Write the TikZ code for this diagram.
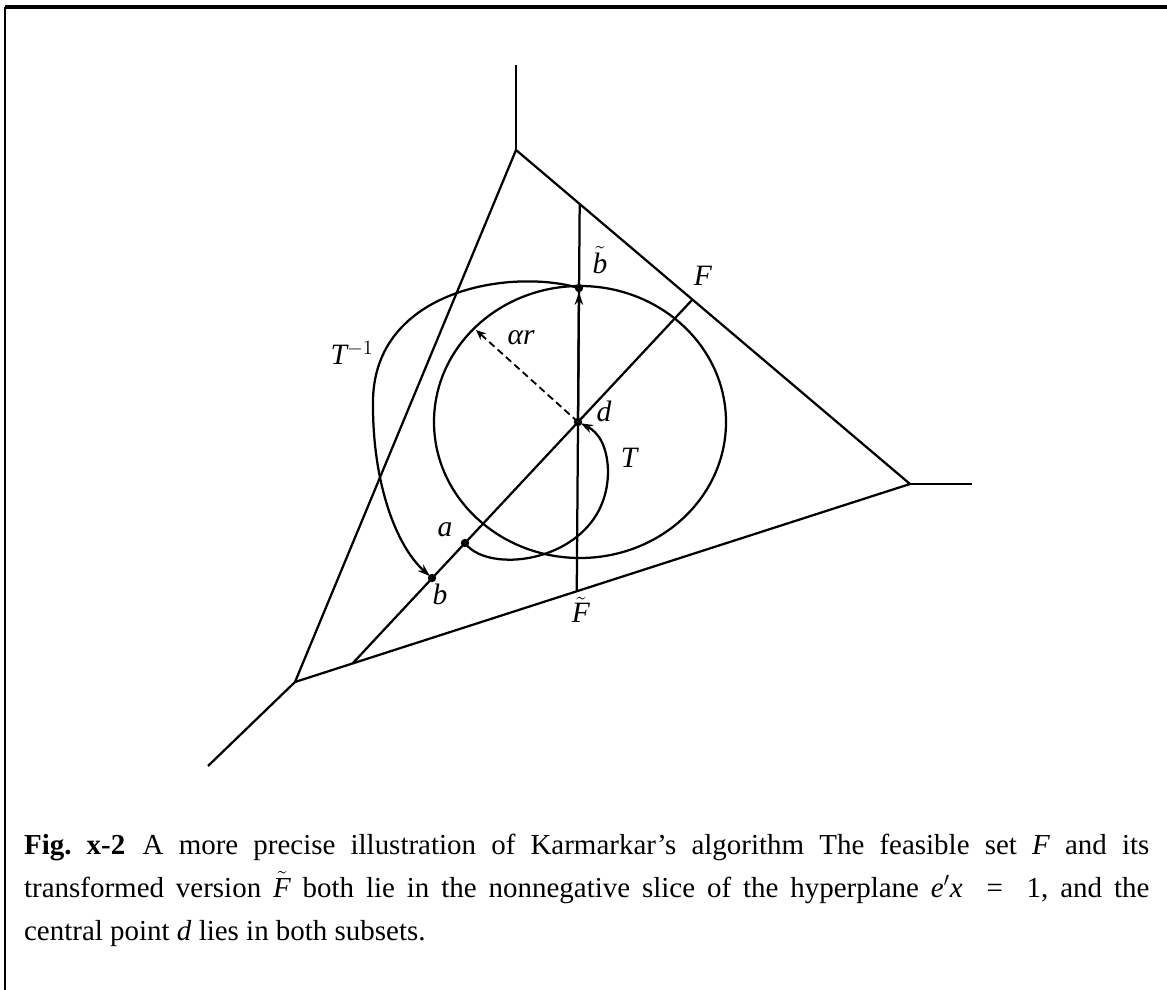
\documentclass[tikz,border=0pt]{standalone}
\usepackage{fontspec}
\setmainfont{Liberation Serif}
\usepackage{amsmath}
\usepackage{tikz}
\usetikzlibrary{arrows.meta}

\begin{document}
\begin{tikzpicture}[x=0.025cm, y=-0.025cm, line width=1.6pt,
        lbl/.style={font=\fontsize{21}{24}\selectfont\itshape, inner sep=0pt},
        tip/.style={-{Stealth[length=9pt,width=6pt]}},
        capline/.style={anchor=base west, inner sep=0pt, font=\fontsize{20.6}{30}\selectfont\frenchspacing}]
        \useasboundingbox (0,0) rectangle (1167,990);
        % frame
        \draw[line width=2.4pt] (5,7) -- (1167,7);
        \draw[line width=1.2pt] (5,7) -- (5,990);
        % triangle and its three outer rays
        \coordinate (top) at (516,150);
        \coordinate (right) at (910,484);
        \coordinate (bot) at (295,682);
        \draw (top) -- (right) -- (bot) -- cycle;
        \draw (top) -- (516,65);
        \draw (right) -- (972,484);
        \draw (bot) -- (208,766);
        % points
        \coordinate (d) at (578,422);
        \coordinate (a) at (465,543);
        \coordinate (b) at (432,578);
        \coordinate (bt) at (579,288);
        \coordinate (rim) at (476,330);
        % the two slices through d
        \coordinate (Flo) at (intersection of bot--right and d--a);
        \coordinate (Fhi) at (intersection of top--right and d--a);
        \coordinate (Glo) at (intersection of bot--right and d--bt);
        \coordinate (Ghi) at (intersection of top--right and d--bt);
        \draw (Flo) -- (Fhi);
        \draw (Glo) -- (Ghi);
        \draw[tip, shorten >=3pt] (d) -- (bt);
        % ball of radius alpha r
        \draw (580,422) ellipse [x radius=146, y radius=136];
        \draw[dash pattern=on 5pt off 3pt, line width=1.3pt, -{Stealth[open,length=7pt,width=6pt]}] (d) -- (rim);
        % map T and its inverse
        \draw[tip, shorten >=2pt] (a) .. controls (490,578) and (609,560) .. (608,470)
            .. controls (607,445) and (598,432) .. (d);
        \draw[tip, shorten >=2pt] (bt) .. controls (510,268) and (375,290) .. (373,400)
            .. controls (372,480) and (395,545) .. (b);
        \foreach \p in {d,a,b,bt}
            \fill (\p) circle (3pt);
        % labels
        \node[lbl] (lF) at (703,276) {F};
        \node[lbl] (lbt) at (600,260) {$\tilde{\textit{b}}$};
        \node[lbl] (lar) at (521,338) {αr};
        \node[lbl] (ld) at (604,411) {d};
        \node[lbl] (lT) at (629,458) {T};
        \node[lbl] (lTi) at (352,353) {T$^{-1}$};
        \node[lbl] (la) at (445,530) {a};
        \node[lbl] (lb) at (440,594) {b};
        \node[lbl] (lFt) at (581,610) {$\tilde{\textit{F}}$};
        % caption
        \node[capline] (cap1) at (23,854) {\makebox[28.125cm][s]{\textbf{Fig.\ x-2}\hspace{0.6em}A more precise illustration of Karmarkar’s algorithm The feasible set \textit{F} and its}};
        \node[capline] (cap2) at (23,897) {\makebox[28.125cm][s]{transformed version $\tilde{\textit{F}}$ both lie in the nonnegative slice of the hyperplane \textit{e}$'$\textit{x}\ \ =\ \ 1, and the}};
        \node[capline] (cap3) at (23,940) {central point \textit{d} lies in both subsets.};
    \end{tikzpicture}
\end{document}
